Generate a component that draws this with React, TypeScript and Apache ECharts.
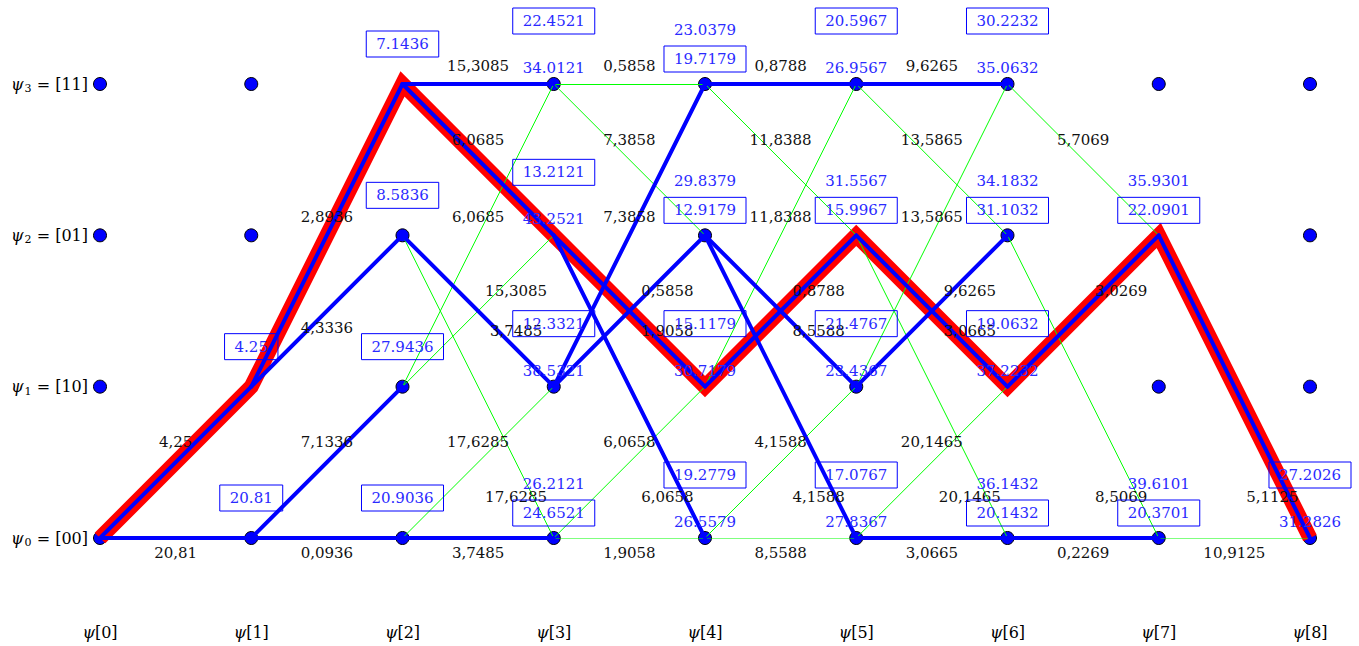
import React, { useEffect, useRef } from "react";
import * as echarts from "echarts";

// ---- data ----
const stageTicks = ["0", "1", "2", "3", "4", "5", "6", "7", "8"];
const stateSubs = ["0", "1", "2", "3"];
const stateBits = ["00", "10", "01", "11"];

// edges: [fromStage, fromState, toState, branch metric, survivor]
const edges: [number, number, number, string, boolean][] = [
  [0, 0, 0, "20,81", true],
  [0, 0, 1, "4,25", true],
  [1, 0, 0, "0,0936", true],
  [1, 0, 1, "7,1336", true],
  [1, 1, 2, "4,3336", true],
  [1, 1, 3, "2,8936", true],
  [2, 0, 0, "3,7485", true],
  [2, 0, 1, "17,6285", false],
  [2, 1, 2, "15,3085", false],
  [2, 1, 3, "6,0685", false],
  [2, 2, 0, "17,6285", false],
  [2, 2, 1, "3,7485", true],
  [2, 3, 2, "6,0685", true],
  [2, 3, 3, "15,3085", true],
  [3, 0, 0, "1,9058", false],
  [3, 0, 1, "6,0658", false],
  [3, 1, 2, "0,5858", true],
  [3, 1, 3, "7,3858", true],
  [3, 2, 0, "6,0658", true],
  [3, 2, 1, "1,9058", true],
  [3, 3, 2, "7,3858", false],
  [3, 3, 3, "0,5858", false],
  [4, 0, 0, "8,5588", false],
  [4, 0, 1, "4,1588", false],
  [4, 1, 2, "0,8788", true],
  [4, 1, 3, "11,8388", false],
  [4, 2, 0, "4,1588", true],
  [4, 2, 1, "8,5588", true],
  [4, 3, 2, "11,8388", false],
  [4, 3, 3, "0,8788", true],
  [5, 0, 0, "3,0665", true],
  [5, 0, 1, "20,1465", false],
  [5, 1, 2, "9,6265", true],
  [5, 1, 3, "13,5865", false],
  [5, 2, 0, "20,1465", false],
  [5, 2, 1, "3,0665", true],
  [5, 3, 2, "13,5865", false],
  [5, 3, 3, "9,6265", true],
  [6, 0, 0, "0,2269", true],
  [6, 1, 2, "3,0269", true],
  [6, 2, 0, "8,5069", false],
  [6, 3, 2, "5,7069", false],
  [7, 0, 0, "10,9125", false],
  [7, 2, 0, "5,1125", true],
];

// path metrics: [stage, state, via lower predecessor, via upper predecessor, kept]
const pathMetrics: [number, number, string, string | null, "low" | "up" | "only"][] = [
  [1, 0, "20.81", null, "only"],
  [1, 1, "4.25", null, "only"],
  [2, 0, "20.9036", null, "only"],
  [2, 1, "27.9436", null, "only"],
  [2, 2, "8.5836", null, "only"],
  [2, 3, "7.1436", null, "only"],
  [3, 0, "24.6521", "26.2121", "low"],
  [3, 1, "38.5321", "12.3321", "up"],
  [3, 2, "43.2521", "13.2121", "up"],
  [3, 3, "34.0121", "22.4521", "up"],
  [4, 0, "26.5579", "19.2779", "up"],
  [4, 1, "30.7179", "15.1179", "up"],
  [4, 2, "12.9179", "29.8379", "low"],
  [4, 3, "19.7179", "23.0379", "low"],
  [5, 0, "27.8367", "17.0767", "up"],
  [5, 1, "23.4367", "21.4767", "up"],
  [5, 2, "15.9967", "31.5567", "low"],
  [5, 3, "26.9567", "20.5967", "up"],
  [6, 0, "20.1432", "36.1432", "low"],
  [6, 1, "37.2232", "19.0632", "up"],
  [6, 2, "31.1032", "34.1832", "low"],
  [6, 3, "35.0632", "30.2232", "up"],
  [7, 0, "20.3701", "39.6101", "low"],
  [7, 2, "22.0901", "35.9301", "low"],
  [8, 0, "31.2826", "27.2026", "up"],
];

// decoded (most likely) state sequence
const decodedPath = [0, 1, 3, 2, 1, 2, 1, 2, 0];

// ---- styling ----
const FAMILY = "DejaVu Serif";
const FONT = `15px "DejaVu Serif", serif`;
const BLUE = "#0000ff";
const GREEN = "#00ff00";
const TEXT_BLUE = "#2a2aff";

function edgeLabelOffset(stage: number, from: number, to: number): [number, number] {
  const key = `${from}-${to}`;
  switch (key) {
    case "0-0": return [0, 15];
    case "0-1": return [0, -20];
    case "2-0": return [38, 110];
    case "2-1": return [38, 19.5];
    case "1-2": return stage === 1 ? [0, 16.5] : [38, -20.5];
    case "1-3": return [0, -18];
    case "3-2": return [0, -19.5];
    case "3-3": return [0, -18];
  }
  return [0, 0];
}

export default function App() {
  const ref = useRef<HTMLDivElement>(null);
  useEffect(() => {
    const chart = echarts.init(ref.current!, null, { renderer: "svg" });

    const nodes: number[][] = [];
    for (let s = 0; s < stageTicks.length; s++)
      for (let k = 0; k < stateSubs.length; k++) nodes.push([s, k]);

    const edgeSeries = (survivor: boolean) => ({
      type: "lines",
      coordinateSystem: "cartesian2d",
      z: survivor ? 5 : 4,
      silent: true,
      symbol: "none",
      lineStyle: {
        color: survivor ? BLUE : GREEN,
        width: survivor ? 4 : 1,
        opacity: 1,
        cap: survivor ? "round" : "butt",
        curveness: 0,
      },
      data: edges
        .filter((e) => e[4] === survivor)
        .map((e) => ({ coords: [[e[0], e[1]], [e[0] + 1, e[2]]] })),
    });

    const option: any = {
      animation: false,
      grid: { left: 100, right: 49, top: 84, bottom: 108, containLabel: false },
      xAxis: {
        type: "value",
        min: 0,
        max: stageTicks.length - 1,
        interval: 1,
        axisLine: { show: false },
        axisTick: { show: false },
        splitLine: { show: false },
        axisLabel: {
          margin: 86,
          color: "#000",
          fontSize: 16,
          fontFamily: FAMILY,
          formatter: (v: number) => `{i|ψ}{n|[${stageTicks[v]}]}`,
          rich: {
            i: { fontFamily: FAMILY, fontStyle: "italic", fontSize: 16, color: "#000" },
            n: { fontFamily: FAMILY, fontSize: 16, color: "#000" },
          },
        },
      },
      yAxis: {
        type: "value",
        min: 0,
        max: stateSubs.length - 1,
        interval: 1,
        axisLine: { show: false },
        axisTick: { show: false },
        splitLine: { show: false },
        axisLabel: {
          margin: 12,
          color: "#000",
          fontSize: 16,
          fontFamily: FAMILY,
          formatter: (v: number) => `{i|ψ}{s|${stateSubs[v]}}{n| = [${stateBits[v]}]}`,
          rich: {
            i: { fontFamily: FAMILY, fontStyle: "italic", fontSize: 16, color: "#000" },
            s: { fontFamily: FAMILY, fontSize: 11, color: "#000", padding: [9, 0, 0, 1] },
            n: { fontFamily: FAMILY, fontSize: 16, color: "#000" },
          },
        },
      },
      series: [
        {
          type: "scatter",
          z: 1,
          silent: true,
          symbol: "circle",
          symbolSize: 13,
          itemStyle: { color: BLUE, borderColor: "#000", borderWidth: 1, opacity: 1 },
          data: nodes,
        },
        {
          type: "line",
          z: 3,
          silent: true,
          clip: false,
          showSymbol: false,
          symbol: "none",
          data: decodedPath.map((s, i) => [i, s]),
          lineStyle: { color: "#ff0000", width: 15, join: "miter", miterLimit: 10, cap: "butt" },
        },
        edgeSeries(false),
        edgeSeries(true),
        {
          type: "custom",
          coordinateSystem: "cartesian2d",
          clip: false,
          z: 6,
          silent: true,
          data: edges.map((e) => [e[0] + 0.5, (e[1] + e[2]) / 2]),
          renderItem: (p: any, api: any) => {
            const e = edges[p.dataIndex];
            const a = api.coord([e[0], e[1]]);
            const b = api.coord([e[0] + 1, e[2]]);
            const off = edgeLabelOffset(e[0], e[1], e[2]);
            return {
              type: "text",
              x: (a[0] + b[0]) / 2 + off[0],
              y: (a[1] + b[1]) / 2 + off[1],
              style: {
                text: e[3],
                font: FONT,
                fill: "#111",
                align: "center",
                verticalAlign: "middle",
              },
            };
          },
        },
        {
          type: "custom",
          coordinateSystem: "cartesian2d",
          clip: false,
          z: 7,
          silent: true,
          data: pathMetrics.map((m) => [m[0], m[1]]),
          renderItem: (p: any, api: any) => {
            const m = pathMetrics[p.dataIndex];
            const c = api.coord([m[0], m[1]]);
            const boxed = (text: string, dy: number) => ({
              type: "text",
              x: c[0],
              y: c[1] - dy,
              style: {
                text,
                font: FONT,
                fill: TEXT_BLUE,
                align: "center",
                verticalAlign: "middle",
                borderColor: BLUE,
                borderWidth: 1,
                padding: [6, 10, 5, 10],
              },
            });
            const plain = (text: string, dy: number) => ({
              type: "text",
              x: c[0],
              y: c[1] - dy,
              style: {
                text,
                font: FONT,
                fill: TEXT_BLUE,
                align: "center",
                verticalAlign: "middle",
              },
            });
            const children: any[] = [];
            if (m[4] === "only") {
              children.push(boxed(m[2], 40));
            } else if (m[4] === "low") {
              children.push(boxed(m[2], 25));
              children.push(plain(m[3] as string, 54));
            } else {
              children.push(plain(m[2], 16));
              children.push(boxed(m[3] as string, 63));
            }
            return { type: "group", children };
          },
        },
      ],
    };

    chart.setOption(option);
    return () => chart.dispose();
  }, []);

  return (
    <div
      ref={ref}
      style={{ position: "fixed", left: 0, top: 0, width: 1359, height: 646, background: "#fff" }}
    />
  );
}
